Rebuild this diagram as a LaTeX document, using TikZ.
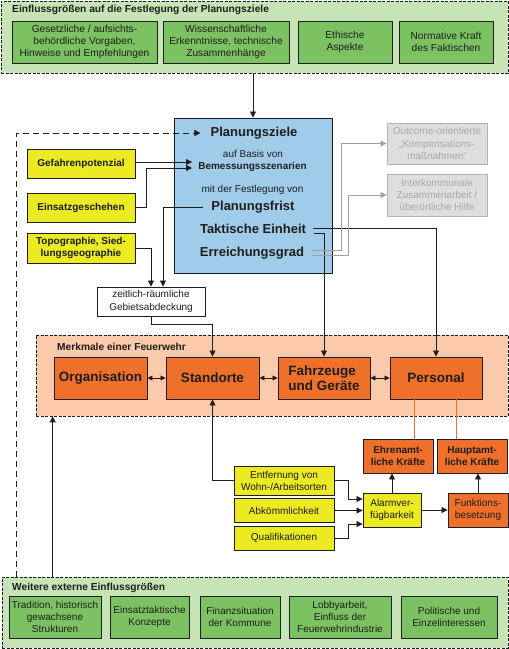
\documentclass[tikz,border=0pt]{standalone}
\usepackage{fontspec}
\setmainfont{Liberation Sans}
\usetikzlibrary{arrows.meta,calc}
\definecolor{lgreen}{RGB}{198,228,182}
\definecolor{mgreen}{RGB}{124,194,98}
\definecolor{lblue}{RGB}{160,204,234}
\definecolor{yel}{RGB}{236,234,34}
\definecolor{orng}{RGB}{238,112,42}
\definecolor{lorg}{RGB}{250,202,170}
\definecolor{gfill}{RGB}{222,222,222}
\definecolor{gline}{RGB}{160,160,160}
\definecolor{gtext}{RGB}{168,168,168}
\definecolor{ink}{RGB}{30,30,30}
\newcommand\fsz[2]{\fontsize{#1}{#2}\selectfont}
\begin{document}
\begin{tikzpicture}[x=1pt,y=-1pt,
  sz/.style 2 args={minimum width=#1pt,minimum height=#2pt},
  container/.style={draw=ink,dashed,dash pattern=on 3pt off 1.5pt,line width=0.7pt,inner sep=0},
  box/.style={draw=ink,line width=0.9pt,align=center,inner sep=0,text=ink},
  gbox/.style={box,fill=mgreen,font=\fsz{10.2}{12.2}},
  ybox/.style={box,fill=yel,font=\bfseries\fsz{10}{12}},
  yrbox/.style={box,fill=yel,font=\fsz{10}{12}},
  obox/.style={box,fill=orng,font=\bfseries\fsz{13.5}{15}},
  osbox/.style={box,fill=orng,font=\bfseries\fsz{10}{12}},
  ornbox/.style={box,fill=orng,font=\fsz{10}{12}},
  graybox/.style={draw=gline!80,line width=0.9pt,fill=gfill,align=center,inner sep=0,text=gtext,font=\fsz{10}{12.2}},
  tx/.style={inner sep=0,text=ink},
  title/.style={inner sep=0,anchor=west,text=ink,font=\bfseries\fsz{10.2}{11}},
  arr/.style={-{Triangle[length=6pt,width=6pt]},line width=0.8pt,draw=ink},
  darr/.style={{Triangle[length=5pt,width=5pt]}-{Triangle[length=5pt,width=5pt]},line width=0.8pt,draw=ink},
  garr/.style={-{Triangle[length=6pt,width=6pt]},line width=0.8pt,draw=gline},
]
\fill[white] (0,0) rectangle (509,649);
\useasboundingbox (0,0) rectangle (509,649);

% top container
\node[container,fill=lgreen,sz={507}{72}] (topc) at (254.5,37) {};
\node[title] (toptitle) at (12,10) {Einflussgrößen auf die Festlegung der Planungsziele};
\node[gbox,sz={145}{42}] (g1) at (84.5,42) {Gesetzliche / aufsichts-\\behördliche Vorgaben,\\Hinweise und Empfehlungen};
\node[gbox,sz={126}{42}] (g2) at (226,42) {Wissenschaftliche\\Erkenntnisse, technische\\Zusammenhänge};
\node[gbox,sz={94}{42}] (g3) at (345,42) {Ethische\\Aspekte};
\node[gbox,sz={94}{42}] (g4) at (446,42) {Normative Kraft\\des Faktischen};

% blue box
\node[box,fill=lblue,sz={158}{155}] (blue) at (253,195.5) {};
\node[tx,font=\bfseries\fsz{13}{14}] (plz) at (254,133) {Planungsziele};
\node[tx,font=\fsz{10}{11}] (basis) at (253,154) {auf Basis von};
\node[tx,font=\bfseries\fsz{10}{11}] (bem) at (252.5,167) {Bemessungsszenarien};
\node[tx,font=\fsz{10}{11}] (fest) at (252.5,190) {mit der Festlegung von};
\node[tx,font=\bfseries\fsz{13}{14}] (pfrist) at (253,207) {Planungsfrist};
\node[tx,font=\bfseries\fsz{13}{14}] (te) at (253,229) {Taktische Einheit};
\node[tx,font=\bfseries\fsz{13}{14}] (eg) at (252,253) {Erreichungsgrad};

% gray boxes
\node[graybox,sz={100}{41}] (outc) at (437,143.5) {Outcome-orientierte\\„Kompensations-\\maßnahmen“};
\node[graybox,sz={100}{42}] (inter) at (437,195) {Interkommunale\\Zusammenarbeit /\\überörtliche Hilfe};

% yellow boxes left
\node[ybox,sz={108}{29}] (y1) at (81,163.5) {Gefahrenpotenzial};
\node[ybox,sz={108}{29}] (y2) at (81,207.5) {Einsatzgeschehen};
\node[ybox,sz={108}{30}] (y3) at (81,248) {Topographie, Sied-\\lungsgeographie};

% white box
\node[box,fill=white,font=\fsz{10}{12.5},sz={108}{29}] (wb) at (151,301.5) {zeitlich-räumliche\\Gebietsabdeckung};

% orange container
\node[container,fill=lorg,sz={472}{81}] (orc) at (272,375.5) {};
\node[title] (ortitle) at (57,347) {Merkmale einer Feuerwehr};
\node[obox,sz={93}{42}] (orgn) at (100.5,378) {Organisation};
\node[obox,sz={93}{42}] (std) at (212.5,378) {Standorte};
\node[obox,sz={92}{42},align=left] (fzg) at (324,378) {Fahrzeuge\\und Geräte};
\node[obox,sz={92}{42}] (pers) at (436,378) {Personal};

% bottom right part
\node[osbox,sz={70}{34}] (ehren) at (398,456) {Ehrenamt-\\liche Kräfte};
\node[osbox,sz={70}{34}] (haupt) at (472,456) {Hauptamt-\\liche Kräfte};
\node[yrbox,sz={100}{29}] (ent) at (284,480.5) {Entfernung von\\Wohn-/Arbeitsorten};
\node[yrbox,sz={100}{24.5}] (abk) at (284,510.5) {Abkömmlichkeit};
\node[yrbox,sz={100}{24}] (qua) at (284,538) {Qualifikationen};
\node[yrbox,sz={58}{34}] (alarm) at (392,510) {Alarmver-\\fügbarkeit};
\node[ornbox,sz={60}{34}] (funk) at (478,510) {Funktions-\\besetzung};

% bottom container
\node[container,fill=lgreen,sz={506}{71}] (botc) at (255,612.5) {};
\node[title] (bottitle) at (12,588) {Weitere externe Einflussgrößen};
\node[gbox,font=\fsz{10}{12.4},sz={92}{42}] (b1) at (55,617) {Tradition, historisch\\gewachsene\\Strukturen};
\node[gbox,font=\fsz{10}{12.4},sz={79}{42}] (b2) at (149.5,617) {Einsatztaktische\\Konzepte};
\node[gbox,font=\fsz{10}{12.4},sz={80}{42}] (b3) at (240,617) {Finanzsituation\\der Kommune};
\node[gbox,font=\fsz{10}{12.4},sz={102}{42}] (b4) at (340,617) {Lobbyarbeit,\\Einfluss der\\Feuerwehrindustrie};
\node[gbox,font=\fsz{10}{12.4},sz={96}{42}] (b5) at (449,617) {Politische und\\Einzelinteressen};

% coordinates
\coordinate (t1) at (192,162);
\coordinate (t2) at (192,168);

% connectors
\draw[arr] (topc.south -| blue.north) -- (blue.north);
\draw[arr,dash pattern=on 6pt off 4pt] ([xshift=15pt]botc.north west) |- ([xshift=-10pt]plz.west);
\draw[arr] ([xshift=51pt]botc.north west) -- ([xshift=51pt]botc.north west |- orc.south);
\draw[arr] (y1.east |- t1) -- (t1);
\draw[arr] (y2.east) -- ++(11,0) |- (t2);
\draw[arr] ([xshift=-8pt]pfrist.west) -| ([xshift=12pt]wb.north);
\draw[arr] (y3.east) -| (wb.north);
\draw[arr] (wb.south) -- ++(0,8) -| (std.north);
\draw[arr] ([xshift=7pt,yshift=1pt]te.east) -| (pers.north);
\draw[arr] ([xshift=8pt,yshift=-4pt]te.east) -| (fzg.north);
\draw[garr] ([xshift=8pt,yshift=3pt]eg.east) -- ++(29,0) |- (outc.west);
\draw[garr] ([xshift=8pt,yshift=-2pt]eg.east) -- ++(36,0) |- (inter.west);
\draw[darr] (orgn.east) -- (std.west);
\draw[darr] (std.east) -- (fzg.west);
\draw[darr] (fzg.east) -- (pers.west);
\draw[draw=orng,line width=0.8pt] ([xshift=-22pt]pers.south) -- ([xshift=-22pt]pers.south |- ehren.north);
\draw[draw=orng,line width=0.8pt] ([xshift=20pt]pers.south) -- ([xshift=20pt]pers.south |- haupt.north);
\draw[arr] (ent.west) -| (std.south);
\draw[arr] (ent.east) -- ++(14,0) |- ([yshift=11pt]alarm.west);
\draw[arr] (abk.east) -- (abk.east -| alarm.west);
\draw[arr] (qua.east) -- ++(14,0) |- ([yshift=-14pt]alarm.west);
\draw[arr] (alarm.east) -- (funk.west);
\draw[arr] (alarm.north) -- (alarm.north |- ehren.south);
\draw[arr] (funk.north) -- (funk.north |- haupt.south);
\end{tikzpicture}
\end{document}
